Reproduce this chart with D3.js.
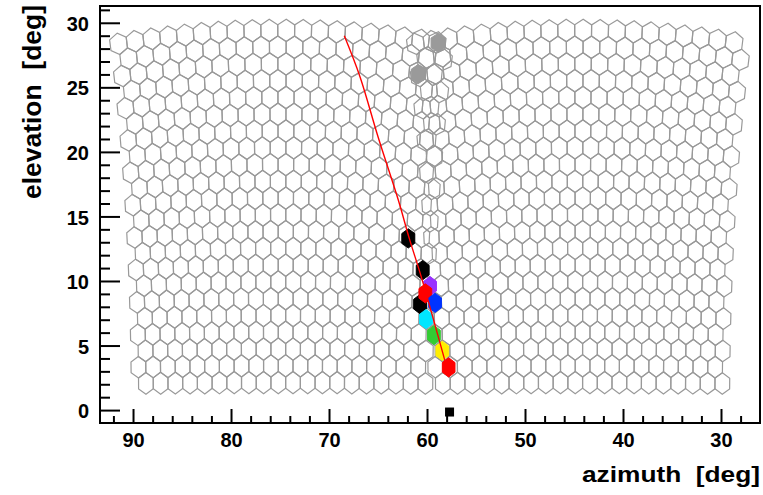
<!DOCTYPE html>
<html>
<head>
<meta charset="utf-8">
<script src="https://cdn.jsdelivr.net/npm/d3@7"></script>
<style>
  body { margin: 0; background: #fff; }
  svg { display: block; }
  text { font-family: "Liberation Sans", Arial, Helvetica, sans-serif; font-weight: bold; fill: #000; }
</style>
</head>
<body>
<svg id="chart" width="763" height="495"></svg>
<script>
// Axis ticks
const xMajorTicks = [90, 80, 70, 60, 50, 40, 30];
const xMinorTicks = [92, 88, 86, 84, 82, 78, 76, 74, 72, 68, 66, 64, 62, 58, 56, 54, 52, 48, 46, 44, 42, 38, 36, 34, 32, 28];
const yMajorTicks = [0, 5, 10, 15, 20, 25, 30];
const yMinorTicks = [1, 2, 3, 4, 6, 7, 8, 9, 11, 12, 13, 14, 16, 17, 18, 19, 21, 22, 23, 24, 26, 27, 28, 29, 31];

// Two telescope cameras: pointing azimuth of each camera (deg)
const cameraAzimuth = [74.8, 44.5];
const cameraRows = 22;
const cameraCols = 20;
const pixelSpacing = 1.5;     // deg between neighbouring pixel centres
const firstRowAngle = 2.13;   // camera-frame elevation of the lowest pixel row (deg)

// Triggered pixels: azimuth, elevation, colour (timing order)
const hitAz    = [58.85, 60.89, 61.91, 60.44, 60.71, 59.69, 60.17, 59.18, 60.10, 59.29, 58.44, 57.79];
const hitEl    = [28.45, 26.03, 13.30, 10.84, 8.21, 9.60, 9.04, 8.31, 7.05, 5.81, 4.59, 3.31];
const hitColor = ["#9a9a9a", "#9a9a9a", "#000000", "#000000", "#000000", "#9933ff", "#ff0000", "#0033ff", "#00e6ff", "#33cc33", "#ffee00", "#ff0000"];

// Fitted shower-detector-plane track
const trackAz = [68.44, 66.84, 65.00, 62.93, 61.81, 60.54, 57.72];
const trackEl = [28.99, 25.82, 21.17, 16.27, 13.30, 10.20, 2.58];

// Reference marker on the horizon
const markerAz = [57.7];
const markerEl = [-0.15];

const svg = d3.select("#chart");
const W = 763, H = 495;
svg.append("rect").attr("width", W).attr("height", H).attr("fill", "#fff");

const frame = { left: 100, right: 760, top: 6, bottom: 423 };
const x = d3.scaleLinear().domain([93.37, 26.02]).range([frame.left, frame.right]);
const y = d3.scaleLinear().domain([-1.0, 31.3]).range([frame.bottom, frame.top]);

const rad = Math.PI / 180;
// camera frame (u along a great circle, w its tilt) -> azimuth/elevation
function project(az0, u, w) {
  const ur = u * rad, wr = w * rad;
  const el = Math.asin(Math.cos(ur) * Math.sin(wr));
  const daz = Math.atan2(Math.sin(ur), Math.cos(ur) * Math.cos(wr));
  return [az0 + daz / rad, el / rad];
}

const hexR = pixelSpacing / Math.sqrt(3);
const hexH = pixelSpacing / 2;
const hexOffsets = [[0, hexR], [hexH, hexR / 2], [hexH, -hexR / 2], [0, -hexR], [-hexH, -hexR / 2], [-hexH, hexR / 2]];

const pixels = [];
cameraAzimuth.forEach(az0 => {
  for (let r = 0; r < cameraRows; r++) {
    const w = firstRowAngle + r * pixelSpacing * Math.sqrt(3) / 2;
    const shift = (r % 2 === 0) ? -pixelSpacing / 4 : pixelSpacing / 4;
    for (let c = 0; c < cameraCols; c++) {
      const u = (c - (cameraCols - 1) / 2) * pixelSpacing + shift;
      pixels.push(hexOffsets.map(([du, dw]) => project(az0, u + du, w + dw)));
    }
  }
});

const poly = d3.line().x(d => x(d[0])).y(d => y(d[1])).curve(d3.curveLinearClosed);

svg.append("g")
  .selectAll("path")
  .data(pixels)
  .join("path")
  .attr("d", poly)
  .attr("fill", "none")
  .attr("stroke", "#999")
  .attr("stroke-width", 1.2);

// Triggered pixels
const fillScale = 0.86;
const hits = hitAz.map((a, i) => ({ az: a, el: hitEl[i], color: hitColor[i] }));
svg.append("g")
  .selectAll("path")
  .data(hits)
  .join("path")
  .attr("d", d => {
    const hw = hexH * fillScale / Math.cos(d.el * rad);
    const hr = hexR * fillScale;
    const pts = [[0, hr], [hw, hr / 2], [hw, -hr / 2], [0, -hr], [-hw, -hr / 2], [-hw, hr / 2]]
      .map(([da, de]) => [d.az + da, d.el + de]);
    return poly(pts);
  })
  .attr("fill", d => d.color)
  .attr("stroke", d => d.color)
  .attr("stroke-width", 1);

// Track
const track = trackAz.map((a, i) => [a, trackEl[i]]);
svg.append("path")
  .attr("d", d3.line().x(d => x(d[0])).y(d => y(d[1])).curve(d3.curveCatmullRom)(track))
  .attr("fill", "none")
  .attr("stroke", "#ff0000")
  .attr("stroke-width", 1.4);

// Marker
svg.append("g")
  .selectAll("rect")
  .data(markerAz.map((a, i) => [a, markerEl[i]]))
  .join("rect")
  .attr("x", d => x(d[0]) - 4.5)
  .attr("y", d => y(d[1]) - 4.5)
  .attr("width", 9)
  .attr("height", 9)
  .attr("fill", "#000");

// Axes
const yAxis = svg.append("g").attr("transform", `translate(${frame.left},0)`);
yAxis.call(d3.axisLeft(y).tickValues(yMajorTicks).tickSizeInner(-20).tickSizeOuter(0).tickPadding(11).tickFormat(d3.format("d")));
yAxis.append("g").call(d3.axisLeft(y).tickValues(yMinorTicks).tickSizeInner(-10).tickSizeOuter(0).tickFormat(""));

const xAxis = svg.append("g").attr("transform", `translate(0,${frame.bottom})`);
xAxis.call(d3.axisBottom(x).tickValues(xMajorTicks).tickSizeInner(-14).tickSizeOuter(0).tickPadding(9.5).tickFormat(d3.format("d")));
xAxis.append("g").call(d3.axisBottom(x).tickValues(xMinorTicks).tickSizeInner(-7).tickSizeOuter(0).tickFormat(""));

svg.selectAll(".domain").remove();
svg.selectAll(".tick line").attr("stroke", "#000").attr("stroke-width", 2);
svg.selectAll(".tick text").attr("font-size", 20).attr("fill", "#000")
  .style("font-family", "'Liberation Sans', Arial, sans-serif").style("font-weight", "bold");
yAxis.selectAll(".tick text").attr("dy", "0.38em");

// Frame
svg.append("rect")
  .attr("x", frame.left).attr("y", frame.top)
  .attr("width", frame.right - frame.left).attr("height", frame.bottom - frame.top)
  .attr("fill", "none").attr("stroke", "#000").attr("stroke-width", 2);

// Titles
svg.append("text")
  .attr("x", 760).attr("y", 482)
  .attr("text-anchor", "end")
  .attr("font-size", 22)
  .attr("textLength", 178).attr("lengthAdjust", "spacingAndGlyphs")
  .style("white-space", "pre")
  .text("azimuth  [deg]");

svg.append("text")
  .attr("transform", "translate(41,5) rotate(-90)")
  .attr("text-anchor", "end")
  .attr("font-size", 26)
  .attr("textLength", 194).attr("lengthAdjust", "spacingAndGlyphs")
  .style("white-space", "pre")
  .text("elevation  [deg]");
</script>
</body>
</html>
